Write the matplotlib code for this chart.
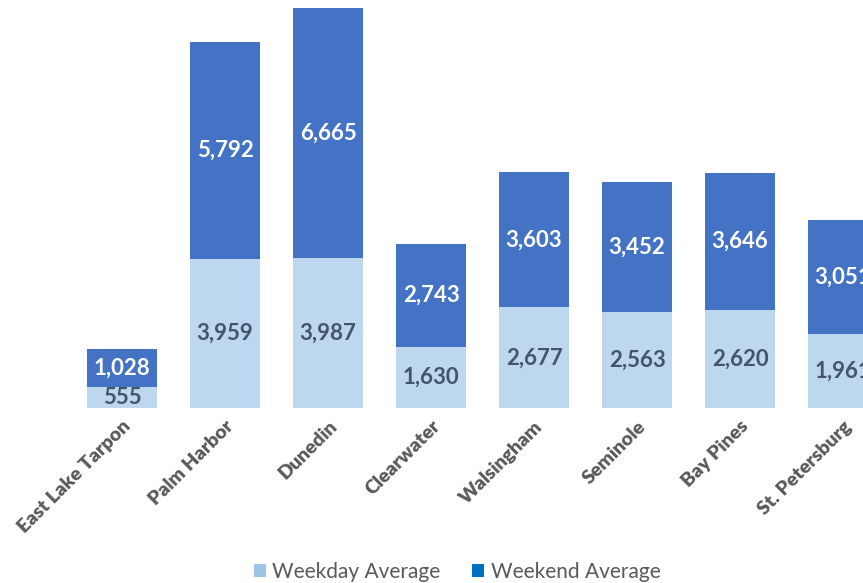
import matplotlib
matplotlib.use("Agg")
import matplotlib.pyplot as plt
from matplotlib.patches import Patch

categories = ["East Lake Tarpon", "Palm Harbor", "Dunedin", "Clearwater",
              "Walsingham", "Seminole", "Bay Pines", "St. Petersburg"]
weekday = [555, 3959, 3987, 1630, 2677, 2563, 2620, 1961]
weekend = [1028, 5792, 6665, 2743, 3603, 3452, 3646, 3051]

C_WD = "#BDD7EE"
C_WE = "#4472C4"
FONT = ["Lato", "DejaVu Sans"]
plt.rcParams["font.family"] = FONT

fig = plt.figure(figsize=(8.63, 5.83), dpi=100)
bottom_frac = (583 - 408) / 583
ax = fig.add_axes([0, bottom_frac, 1, 1 - bottom_frac])

x = list(range(len(categories)))
ax.bar(x, weekday, width=0.67, color=C_WD, edgecolor="none")
ax.bar(x, weekend, width=0.67, bottom=weekday, color=C_WE, edgecolor="none")

for i in x:
    ax.text(i, weekday[i] / 2, f"{weekday[i]:,}", ha="center", va="center",
            color="#44546A", fontsize=16, fontweight="bold")
    ax.text(i, weekday[i] + weekend[i] / 2, f"{weekend[i]:,}", ha="center",
            va="center", color="white", fontsize=16, fontweight="bold")

ax.set_xlim(-122 / 103, (863 - 122) / 103)
ax.set_ylim(0, 10652 * 408 / 400)
for s in ax.spines.values():
    s.set_visible(False)
ax.set_yticks([])
ax.set_xticks(x)
ax.set_xticklabels(categories, rotation=45, ha="right", rotation_mode="anchor",
                   fontsize=14, fontweight="heavy", color="#595959")
ax.tick_params(axis="x", length=0, pad=7)

handles = [Patch(facecolor="#9DC3E6", label="Weekday Average"),
           Patch(facecolor="#0070C0", label="Weekend Average")]
fig.legend(handles=handles, loc="center", bbox_to_anchor=(457 / 863, 1 - 572 / 583),
           ncol=2, frameon=False, fontsize=15, labelcolor="#595959",
           handlelength=0.6, handleheight=0.6, handletextpad=0.3, columnspacing=1.5)

fig.savefig("out.png", dpi=100)
